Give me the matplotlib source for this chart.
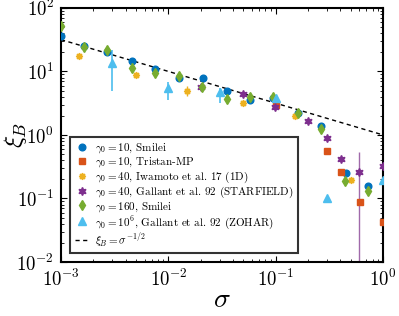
import numpy as np
import matplotlib
matplotlib.use("Agg")
import matplotlib.pyplot as plt

plt.rcParams["font.family"] = "serif"
plt.rcParams["font.serif"] = ["cmr10"]
plt.rcParams["mathtext.fontset"] = "cm"
plt.rcParams["axes.formatter.use_mathtext"] = True

# gamma0 = 10, Smilei
s_sm10 = [1e-3, 1.65e-3, 2.7e-3, 4.6e-3, 7.5e-3, 0.0126, 0.0209, 0.035, 0.0577, 0.095, 0.163, 0.265, 0.453, 0.73]
x_sm10 = [36.6, 25.5, 20.5, 14.8, 10.8, 7.8, 8.0, 4.93, 3.56, 3.8, 2.24, 1.39, 0.255, 0.159]

# gamma0 = 10, Tristan-MP
s_tr = [0.1, 0.303, 0.405, 0.61, 1.0]
x_tr = [2.97, 0.56, 0.264, 0.089, 0.042]

# gamma0 = 40, Iwamoto et al. 17 (1D)
s_iw = [1.48e-3, 5.0e-3, 0.015, 0.05, 0.152, 0.505]
x_iw = [17.5, 8.8, 4.93, 3.15, 1.99, 0.195]
e_iw = [0.8, 0.6, 0.9, 0.2, 0.1, 0.015]

# gamma0 = 40, Gallant et al. 92 (STARFIELD)
s_sf = [0.020, 0.05, 0.098, 0.20, 0.303, 0.405, 0.60, 1.0]
x_sf = [5.64, 4.37, 2.8, 1.66, 0.887, 0.414, 0.264, 0.32]
e_sf_lo = [0, 0, 0, 0, 0, 0, 0.26, 0]
e_sf_hi = [0, 0, 0, 0, 0, 0, 0.28, 0]

# gamma0 = 160, Smilei
s_sm160 = [1e-3, 1.65e-3, 2.7e-3, 4.6e-3, 7.5e-3, 0.0126, 0.0206, 0.035, 0.058, 0.095, 0.16, 0.265, 0.44, 0.73]
x_sm160 = [52.6, 24.0, 21.8, 11.2, 9.4, 8.6, 5.77, 3.65, 4.0, 3.9, 2.2, 1.23, 0.19, 0.131]

# gamma0 = 1e6, Gallant et al. 92 (ZOHAR)
s_zo = [3.0e-3, 0.01, 0.030, 0.1, 0.303, 1.0]
x_zo = [13.8, 5.4, 4.8, 3.8, 0.1, 0.195]
e_zo_lo = [8.8, 1.8, 1.6, 0.3, 0, 0.105]
e_zo_hi = [8.0, 1.5, 0.6, 0.3, 0, 0]

fig = plt.figure(figsize=(3.99, 3.16), dpi=100)
ax = fig.add_axes([0.153, 0.171, 0.807, 0.804])

ms = 4.8
ax.plot(s_sm10, x_sm10, "o", color="#0072BD", ms=ms, label=r"$\gamma_0 = 10$, Smilei", zorder=3)
ax.plot(s_tr, x_tr, "s", color="#D95319", ms=ms - 0.5, label=r"$\gamma_0 = 10$, Tristan-MP", zorder=3)
ax.errorbar(s_iw, x_iw, yerr=e_iw, fmt="none", ecolor="#EDB120", elinewidth=1, zorder=2)
ax.plot(s_iw, x_iw, marker=(8, 1, 0), ls="none", color="#EDB120", ms=ms, label=r"$\gamma_0 = 40$, Iwamoto et al. 17 (1D)", zorder=3)
ax.errorbar(s_sf, x_sf, yerr=[e_sf_lo, e_sf_hi], fmt="none", ecolor="#A06AAA", elinewidth=1, zorder=2)
ax.plot(s_sf, x_sf, marker=(6, 1, 0), ls="none", color="#7E2F8E", ms=ms + 1, label=r"$\gamma_0 = 40$, Gallant et al. 92 (STARFIELD)", zorder=3)
ax.plot(s_sm160, x_sm160, "d", color="#77AC30", ms=ms + 0.5, label=r"$\gamma_0 = 160$, Smilei", zorder=3)
ax.errorbar(s_zo, x_zo, yerr=[e_zo_lo, e_zo_hi], fmt="none", ecolor="#4DBEEE", elinewidth=1.2, zorder=2)
ax.plot(s_zo, x_zo, "^", color="#4DBEEE", ms=ms + 0.5, label=r"$\gamma_0 = 10^6$, Gallant et al. 92 (ZOHAR)", zorder=3)

sig = np.logspace(-3, 0, 50)
ax.plot(sig, sig ** -0.5, "k--", lw=1, dashes=(3, 2.5), label=r"$\xi_B = \sigma^{-1/2}$", zorder=1)

ax.set_xscale("log")
ax.set_yscale("log")
ax.set_xlim(1e-3, 1)
ax.set_ylim(1e-2, 1e2)
ax.tick_params(which="both", direction="in", top=True, right=True, labelsize=13.5)
ax.tick_params(which="major", length=4)
ax.tick_params(which="minor", length=2)
ax.tick_params(axis="y", pad=5)
ax.tick_params(axis="x", pad=5)
for sp in ax.spines.values():
    sp.set_linewidth(1.5)

ax.set_xlabel(r"$\sigma$", fontsize=20, labelpad=-2)
ax.set_ylabel(r"$\xi_B$", fontsize=18, labelpad=-9)

leg = ax.legend(loc="lower left", bbox_to_anchor=(0.028, 0.035), borderaxespad=0,
                fontsize=8, frameon=True, fancybox=False, handlelength=1.3,
                labelspacing=0.0, handletextpad=0.5, borderpad=0.4)
leg.get_frame().set_edgecolor("black")
leg.get_frame().set_linewidth(1.5)

fig.savefig("out.png", dpi=100)
